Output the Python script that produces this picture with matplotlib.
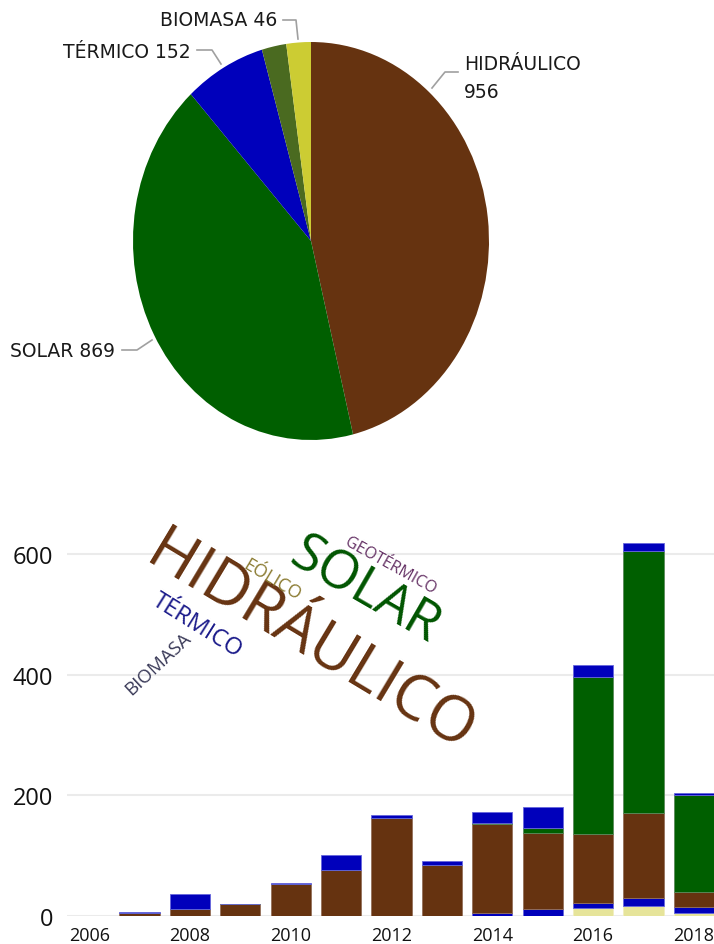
import numpy as np
import matplotlib
matplotlib.use('Agg')
import matplotlib.pyplot as plt

# pie totals
pie_labels = ['HIDRÁULICO', 'SOLAR', 'TÉRMICO', 'EÓLICO', 'BIOMASA']
pie_values = [956, 869, 152, 46, 46]
pie_colors = ['#663310', '#005f00', '#0000bb', '#4a6a20', '#cccc33']

# yearly stacked bars (bottom -> top)
years = [2007, 2008, 2009, 2010, 2011, 2012, 2013, 2014, 2015, 2016, 2017, 2018]
yellow_s = [0, 0, 0, 0, 0, 0, 0, 0, 0, 14, 16, 5.5]
blue_low = [0, 0, 0, 0, 0, 0, 0, 5, 11, 8, 14, 9]
hidraulico = [5, 11, 20, 53, 76, 162, 84, 147, 127, 114, 140, 26]
solar = [0, 0, 0, 0, 0, 0, 0, 2, 8, 260, 435, 160]
termico = [2, 26, 0, 1.5, 25, 6, 7, 19, 34, 20, 13, 4]
bar_colors = ['#e6e49a', '#0000bb', '#663310', '#005f00', '#0000bb']
edge_colors = ['#f0eec0', '#6666dd', '#94705a', '#5a8a5a', '#6666dd']
xticks = [2006, 2008, 2010, 2012, 2014, 2016, 2018]
yticks = [0, 200, 400, 600]

W, H = 714, 945
fig = plt.figure(figsize=(W / 100, H / 100), dpi=100)

def fx(px):
    return px / W

def fy(py):
    return 1 - py / H

# ---- pie (slightly stretched vertically, like the source) ----
cx, cy, rx, ry = 311, 242, 178, 199
ax = fig.add_axes([fx(cx - rx), fy(cy + ry), 2 * rx / W, 2 * ry / H])
ax.pie(pie_values, colors=pie_colors, startangle=90, counterclock=False,
       wedgeprops=dict(linewidth=0))
ax.set_aspect('auto')
ax.set_xlim(-1, 1)
ax.set_ylim(-1, 1)
ax.axis('off')

lab_font = dict(family='DejaVu Sans', fontsize=13.5, color='#1a1a1a')
line_kw = dict(color='#a0a0a0', linewidth=1.2, transform=fig.transFigure)

# label text + leader line points (pixels)
fig.text(fx(277), fy(21), 'BIOMASA 46', ha='right', va='center', **lab_font)
fig.add_artist(plt.Line2D([fx(283), fx(296), fx(298)], [fy(21), fy(21), fy(40)], **line_kw))
fig.text(fx(191), fy(52), 'TÉRMICO 152', ha='right', va='center', **lab_font)
fig.add_artist(plt.Line2D([fx(197), fx(212), fx(221)], [fy(51), fy(51), fy(65)], **line_kw))
fig.text(fx(464), fy(65), 'HIDRÁULICO', ha='left', va='center', **lab_font)
fig.text(fx(464), fy(93), '956', ha='left', va='center', **lab_font)
fig.add_artist(plt.Line2D([fx(432), fx(445), fx(458)], [fy(89), fy(73), fy(73)], **line_kw))
fig.text(fx(115), fy(352), 'SOLAR 869', ha='right', va='center', **lab_font)
fig.add_artist(plt.Line2D([fx(122), fx(137), fx(152)], [fy(351), fy(351), fy(341)], **line_kw))

# ---- stacked bars ----
ymax = 650
y0px, ppu = 917, 0.6035
ax2 = fig.add_axes([fx(67), fy(y0px), 1 - fx(67), ymax * ppu / H])
series = [yellow_s, blue_low, hidraulico, solar, termico]
bottom = np.zeros(len(years))
for vals, col, ec in zip(series, bar_colors, edge_colors):
    ax2.bar(years, vals, width=0.8, bottom=bottom, color=col,
            edgecolor=ec, linewidth=0.6)
    bottom += np.array(vals)

ax2.set_xlim(2005.56, 2018.4)
ax2.set_ylim(0, ymax)
ax2.set_yticks(yticks)
ax2.set_xticks(xticks)
ax2.set_xticklabels([str(t) for t in xticks])
ax2.grid(axis='y', color='#ebebeb', linewidth=1.5)
ax2.set_axisbelow(True)
for s in ax2.spines.values():
    s.set_visible(False)
ax2.tick_params(axis='y', length=0, pad=10, labelsize=17, labelcolor='#111111')
ax2.tick_params(axis='x', length=0, pad=7, labelsize=13, labelcolor='#111111')
for t in ax2.get_xticklabels() + ax2.get_yticklabels():
    t.set_family('Open Sans')

# ---- word cloud ----
words = [
    ('HIDRÁULICO', 311, 643, 45, -31, '#663311'),
    ('SOLAR', 364, 592, 38, -30, '#005500'),
    ('GEOTÉRMICO', 390, 566, 11.5, -29, '#663366'),
    ('EÓLICO', 272, 580, 13, -31, '#8a7a30'),
    ('TÉRMICO', 197, 626, 17, -32, '#1a1a8a'),
    ('BIOMASA', 158, 664, 13.5, 43, '#3a3a58'),
]
for w, x, y, size, rot, col in words:
    fig.text(fx(x), fy(y), w, ha='center', va='center', rotation=rot,
             rotation_mode='anchor', fontsize=size, color=col, family='Open Sans')

fig.savefig('out.png', dpi=100)
